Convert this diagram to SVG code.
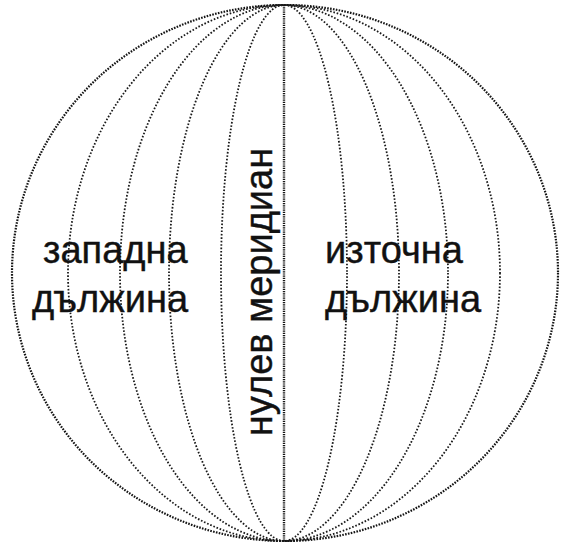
<svg xmlns="http://www.w3.org/2000/svg" width="568" height="549" viewBox="0 0 568 549">
<style>
.m{fill:none;stroke:#1a1a1a;stroke-width:1.8;stroke-dasharray:1.6 1.8}
.o{fill:none;stroke:#141414;stroke-width:2.2;stroke-dasharray:1.6 1.3}
.c{fill:none;stroke:#141414;stroke-width:2.4;stroke-dasharray:1.2 1}
.t{font-family:"Liberation Sans",Arial,sans-serif;font-size:38px;fill:#111;stroke:#111;stroke-width:0.4}
</style>
<rect width="568" height="549" fill="#fff"/>
<g id="globe">
<ellipse class="o" cx="285" cy="273" rx="273" ry="268"/>
<ellipse class="m" cx="284" cy="273" rx="216" ry="268"/>
<ellipse class="m" cx="284" cy="273" rx="164" ry="268"/>
<ellipse class="m" cx="284" cy="273" rx="115" ry="268"/>
<ellipse class="m" cx="284" cy="273" rx="63" ry="268"/>
<line class="c" x1="284" y1="5" x2="284" y2="541"/>
</g>
<g id="west">
<text class="t" x="43" y="263">западна</text>
<text class="t" x="32" y="312">дължина</text>
</g>
<g id="east">
<text class="t" x="325" y="263">източна</text>
<text class="t" x="325" y="312">дължина</text>
</g>
<g id="prime">
<text class="t" transform="translate(272,292) rotate(-90)" text-anchor="middle">нулев меридиан</text>
</g>
</svg>
